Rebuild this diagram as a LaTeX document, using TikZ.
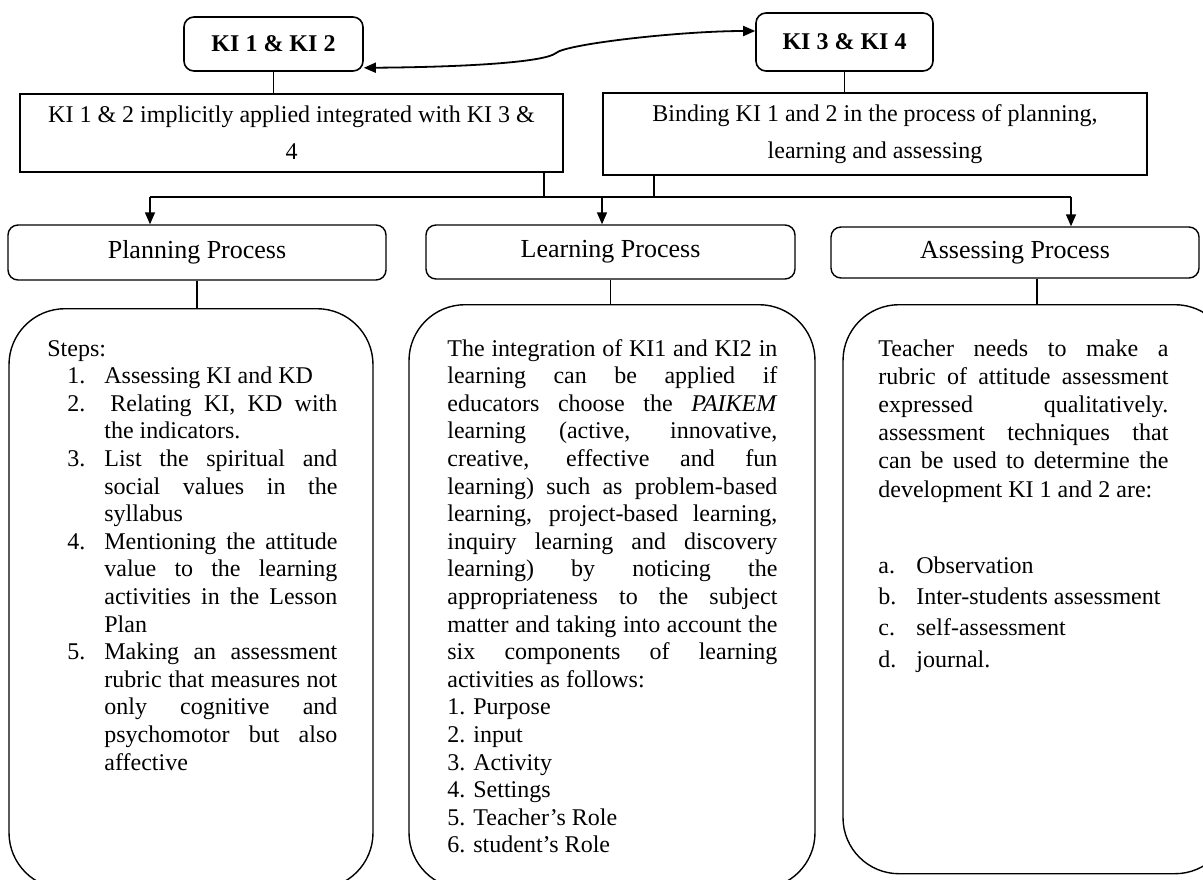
\documentclass[tikz,border=0pt]{standalone}
\usepackage{fontspec}
\setmainfont{Liberation Serif}
\usetikzlibrary{arrows.meta,positioning}
\newcommand{\itemlabel}[2]{\noindent\llap{\makebox[#1][l]{#2}}}
\tikzset{
  kibox/.style={draw,line width=0.8pt,rounded corners=5pt,align=center,font=\fontsize{12}{13.8}\selectfont\bfseries},
  corebox/.style={draw,line width=0.9pt,align=center},
  procbox/.style={draw,line width=0.7pt,rounded corners=5pt,align=center,font=\fontsize{13}{15}\selectfont},
  bodybox/.style={draw,line width=0.7pt,rounded corners=28pt},
  bodytext/.style={anchor=base west,inner sep=0pt,align=justify},
  link/.style={draw,line width=0.8pt},
  arrow/.style={-{Triangle[length=6pt,width=5pt]},line width=0.8pt},
  twoway/.style={{Triangle[length=6pt,width=5pt]}-{Triangle[length=6pt,width=5pt]},line width=0.9pt}
}

\begin{document}
\begin{tikzpicture}[x=0.5pt,y=-0.5pt,font=\fontsize{12}{13.8}\selectfont]
  \useasboundingbox (0,0) rectangle (1203,879);
  % top row
  \node[kibox,minimum width=89.5pt,minimum height=27pt] (ki12) at (273.5,44) {KI 1 \& KI 2};
  \node[kibox,minimum width=88.5pt,minimum height=29pt] (ki34) at (844.5,42) {KI 3 \& KI 4};
  \node[corebox,minimum width=271.5pt,minimum height=39pt] (implied) at (291.5,133)
    {KI 1 \& 2 implicitly applied integrated with KI 3 \&\\[4.7pt]4};
  \node[corebox,minimum width=272pt,minimum height=41pt] (binding) at (875,134)
    {Binding KI 1 and 2 in the process of planning,\\[4.7pt]learning and assessing};
  \draw[twoway] ([yshift=2pt]ki12.south east) .. controls (470,67) and (545,62) .. (556,53)
    .. controls (566,44) and (680,31) .. ([yshift=5.5pt]ki34.west);
  \draw[link] (ki12.south) -- (ki12.south |- implied.north);
  \draw[link] (ki34.south) -- (ki34.south |- binding.north);

  % processes
  \node[procbox,minimum width=189pt,minimum height=27.5pt] (plan) at (197,252.5) {Planning Process};
  \node[procbox,minimum width=184.5pt,minimum height=27pt] (learn) at (610.5,252) {Learning Process};
  \node[procbox,minimum width=184pt,minimum height=25.5pt] (assess) at (1015,252.5) {Assessing Process};

  \coordinate (busL) at (150,197);
  \coordinate (busM) at (602,197);
  \coordinate (busR) at (1071,197);
  \coordinate (joinL) at (544,197);
  \coordinate (joinR) at (654,197);
  \draw[link] (busL) -- (busR);
  \draw[link] (implied.south -| joinL) -- (joinL);
  \draw[link] (binding.south -| joinR) -- (joinR);
  \foreach \b/\p in {busL/plan,busM/learn,busR/assess}
    \draw[arrow] (\b) -- (\b |- \p.north);

  % bodies
  \node[bodybox,minimum width=182pt,minimum height=290pt,anchor=north] (planbody) at (191,308) {};
  \node[bodybox,minimum width=203pt,minimum height=292pt,anchor=north] (learnbody) at (612,304) {};
  \node[bodybox,minimum width=194pt,minimum height=284.5pt,anchor=north] (assessbody) at (1037,304) {};
  \draw[link] (plan.south) -- (plan.south |- planbody.north);
  \draw[link] (learn.south) -- (learn.south |- learnbody.north);
  \draw[link] (assessbody.north |- assess.south) -- (assessbody.north);

  \node[bodytext,text width=145pt] (plantxt) at (47,356) {%
    Steps:\par
    {\leftskip=28.5pt
    \itemlabel{18.5pt}{1.}Assessing KI and KD\par
    \itemlabel{18.5pt}{2.}\hspace*{3pt}Relating KI, KD with\linebreak the indicators.\par
    \itemlabel{18.5pt}{3.}List the spiritual and\linebreak social values in the\linebreak syllabus\par
    \itemlabel{18.5pt}{4.}Mentioning the attitude\linebreak value to the learning\linebreak activities in the Lesson\linebreak Plan\par
    \itemlabel{18.5pt}{5.}Making an assessment\linebreak rubric that measures not\linebreak only cognitive and\linebreak psychomotor but also\linebreak affective\par}};

  \node[bodytext,text width=165pt] (learntxt) at (447,356) {%
    The integration of KI1 and KI2 in\linebreak learning can be applied if\linebreak
    educators choose the \textit{PAIKEM}\linebreak learning (active, innovative,\linebreak
    creative, effective and fun\linebreak learning) such as problem-based\linebreak
    learning, project-based learning,\linebreak inquiry learning and discovery\linebreak
    learning) by noticing the\linebreak appropriateness to the subject\linebreak
    matter and taking into account the\linebreak six components of learning\linebreak
    activities as follows:\par
    1. Purpose\par
    2. input\par
    3. Activity\par
    4. Settings\par
    5. Teacher's Role\par
    6. student's Role\par};

  \node[bodytext,text width=145pt,font=\fontsize{12}{14.1}\selectfont] (assesstxt) at (878,356) {%
    Teacher needs to make a\linebreak rubric of attitude assessment\linebreak
    expressed qualitatively.\linebreak assessment techniques that\linebreak
    can be used to determine the\linebreak development KI 1 and 2 are:\par
    \vspace{22.3pt}
    {\leftskip=19pt \baselineskip=15.7pt
    \itemlabel{19pt}{a.}Observation\par
    \itemlabel{19pt}{b.}Inter-students assessment\par
    \itemlabel{19pt}{c.}self-assessment\par
    \itemlabel{19pt}{d.}journal.\par}};
\end{tikzpicture}
\end{document}
